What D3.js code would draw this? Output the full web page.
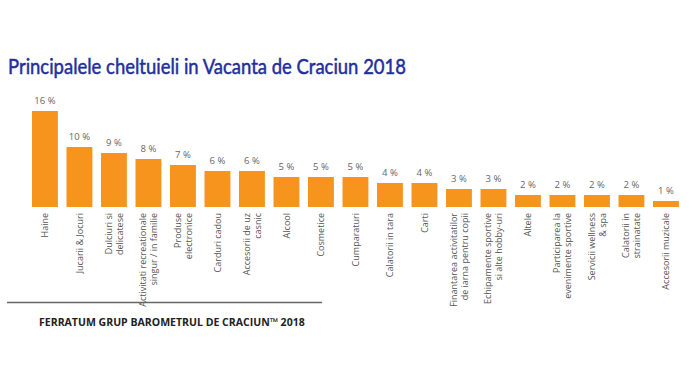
<!DOCTYPE html>
<html><head><meta charset="utf-8">
<script src="https://cdn.jsdelivr.net/npm/d3@7"></script>
<style>
html,body{margin:0;padding:0;background:#fff;}
svg{display:block;}
</style></head>
<body><svg id="c" width="700" height="368"></svg>
<script>
const title = "Principalele cheltuieli in Vacanta de Craciun 2018";
const source = "FERRATUM GRUP BAROMETRUL DE CRACIUN\u2122 2018";
const categories = [
  ["Haine"],
  ["Jucarii & Jocuri"],
  ["Dulciuri si","delicatese"],
  ["Activitati recreationale","singur / in familie"],
  ["Produse","electronice"],
  ["Carduri cadou"],
  ["Accesorii de uz","casnic"],
  ["Alcool"],
  ["Cosmetice"],
  ["Cumparaturi"],
  ["Calatorii in tara"],
  ["Carti"],
  ["Finantarea activitatilor","de iarna pentru copii"],
  ["Echipamente sportive","si alte hobby-uri"],
  ["Altele"],
  ["Participarea la","evenimente sportive"],
  ["Servicii wellness","& spa"],
  ["Calatorii in","strainatate"],
  ["Accesorii muzicale"]
];
const values = [16,10,9,8,7,6,6,5,5,5,4,4,3,3,2,2,2,2,1];

const svg = d3.select("#c");
const keys = categories.map((d,i)=>i);
const x = d3.scaleBand().domain(keys).range([27.7, 683.2]).paddingInner(0.25).paddingOuter(0.125);
const y = d3.scaleLinear().domain([0,16]).range([207,111]);

// title
const t = svg.append("text").attr("x",8).attr("y",74)
  .attr("font-family","Lato, 'Open Sans', sans-serif").attr("font-size",21)
  .attr("font-weight",400).attr("fill","#1f2f9e")
  .attr("stroke","#1f2f9e").attr("stroke-width",0.5).text(title);
t.attr("textLength",398).attr("lengthAdjust","spacingAndGlyphs");

// bars
svg.append("g").selectAll("rect").data(values).join("rect")
  .attr("x",(d,i)=>x(i)).attr("width",x.bandwidth())
  .attr("y",d=>y(d)).attr("height",d=>y(0)-y(d))
  .attr("fill","#f7941d");

// value labels
svg.append("g").selectAll("text").data(values).join("text")
  .attr("x",(d,i)=>x(i)+x.bandwidth()/2).attr("y",d=>y(d)-7)
  .attr("text-anchor","middle").attr("font-family","'Open Sans', sans-serif")
  .attr("font-size",9.5).attr("fill","#666").text(d=>d+" %");

// category labels
const lh = 11;
const cg = svg.append("g");
categories.forEach((lines,i)=>{
  const cx = x(i)+x.bandwidth()/2;
  const n = lines.length;
  const tx = cg.append("text")
    .attr("transform",`translate(${cx},213) rotate(-90)`)
    .attr("text-anchor","end").attr("font-family","'Open Sans', sans-serif")
    .attr("font-size",9).attr("fill","#555");
  lines.forEach((s,j)=>{
    tx.append("tspan").attr("x",0).attr("y",(j-(n-1)/2)*lh).attr("dy","0.35em").text(s);
  });
});

// rule
svg.append("line").attr("x1",7).attr("x2",322).attr("y1",302.5).attr("y2",302.5)
  .attr("stroke","#666").attr("stroke-width",1.5);

// source
const s = svg.append("text").attr("x",39).attr("y",326).attr("font-family","'Open Sans', sans-serif")
  .attr("font-size",10).attr("font-weight",700).attr("fill","#222").text(source);
const sw = s.node().getComputedTextLength();
s.attr("font-size", 10*266/sw);
</script>
</body></html>
